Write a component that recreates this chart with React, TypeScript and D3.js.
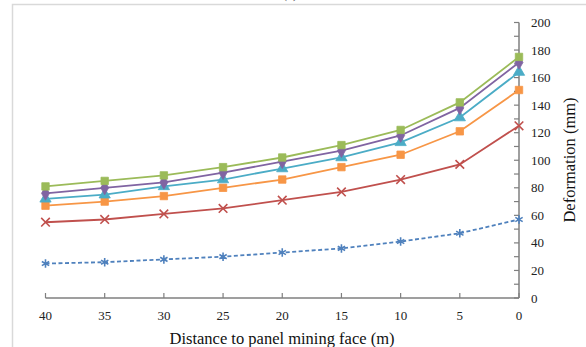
import React, { useEffect, useRef } from 'react'
import * as d3 from 'd3'

const distances = [40, 35, 30, 25, 20, 15, 10, 5, 0]
const yTicks = [0, 20, 40, 60, 80, 100, 120, 140, 160, 180, 200]

const greenVals = [81, 85, 89, 95, 102, 111, 122, 142, 175]
const purpleVals = [76, 80, 84, 91, 99, 107, 118, 138, 171]
const cyanVals = [72, 75, 81, 86, 94, 102, 113, 131, 164]
const orangeVals = [67, 70, 74, 80, 86, 95, 104, 121, 151]
const redVals = [55, 57, 61, 65, 71, 77, 86, 97, 125]
const blueVals = [25, 26, 28, 30, 33, 36, 41, 47, 57]

const series = [
  { name: 'blue', values: blueVals, color: '#4F81BD', symbol: d3.symbolAsterisk, dash: '4,2.5', stroked: true },
  { name: 'red', values: redVals, color: '#C0504D', symbol: d3.symbolX, dash: null, stroked: true },
  { name: 'orange', values: orangeVals, color: '#F79646', symbol: d3.symbolSquare, dash: null, stroked: false },
  { name: 'cyan', values: cyanVals, color: '#4BACC6', symbol: d3.symbolTriangle, dash: null, stroked: false },
  { name: 'purple', values: purpleVals, color: '#8064A2', symbol: d3.symbolDiamond, dash: null, stroked: false },
  { name: 'green', values: greenVals, color: '#9BBB59', symbol: d3.symbolSquare, dash: null, stroked: false }
]

export default function App() {
  const ref = useRef(null)

  useEffect(() => {
    const svg = d3.select(ref.current)
    svg.selectAll('*').remove()

    const font = '"Liberation Serif", "Times New Roman", serif'

    // frame
    svg.append('path')
      .attr('d', 'M12.5,347 L12.5,4.5 L586,4.5')
      .attr('fill', 'none')
      .attr('stroke', '#d9d9d9')
      .attr('stroke-width', 1.5)

    svg.append('text')
      .attr('x', 290)
      .attr('y', -2)
      .attr('text-anchor', 'middle')
      .attr('font-family', font)
      .attr('font-size', 14)
      .attr('fill', '#555')
      .text('(c)')

    const x = d3.scaleLinear().domain([40, 0]).range([45.5, 519])
    const y = d3.scaleLinear().domain([0, 200]).range([298, 22.5])

    // x axis
    const xg = svg.append('g')
    xg.append('line')
      .attr('x1', x(40)).attr('x2', x(0))
      .attr('y1', y(0)).attr('y2', y(0))
      .attr('stroke', '#7f7f7f').attr('stroke-width', 1.5)
    xg.selectAll('.xt')
      .data(distances)
      .join('line')
      .attr('x1', d => x(d)).attr('x2', d => x(d))
      .attr('y1', y(0)).attr('y2', y(0) - 5)
      .attr('stroke', '#7f7f7f').attr('stroke-width', 1.2)
    xg.selectAll('.xl')
      .data(distances)
      .join('text')
      .attr('x', d => x(d))
      .attr('y', 320)
      .attr('text-anchor', 'middle')
      .attr('font-family', font)
      .attr('font-size', 13)
      .attr('fill', '#222')
      .text(d => d)

    // y axis
    const yg = svg.append('g')
    yg.append('line')
      .attr('x1', x(0)).attr('x2', x(0))
      .attr('y1', y(0)).attr('y2', y(200))
      .attr('stroke', '#7f7f7f').attr('stroke-width', 1.5)
    yg.selectAll('.yt')
      .data(d3.range(0, 201, 10))
      .join('line')
      .attr('x1', x(0) - 5).attr('x2', x(0))
      .attr('y1', d => y(d)).attr('y2', d => y(d))
      .attr('stroke', '#7f7f7f').attr('stroke-width', 1.2)
    yg.selectAll('.yl')
      .data(yTicks)
      .join('text')
      .attr('x', 531)
      .attr('y', d => y(d) + 4.5)
      .attr('font-family', font)
      .attr('font-size', 13)
      .attr('fill', '#222')
      .text(d => d)

    svg.append('text')
      .attr('transform', 'translate(575,160) rotate(-90)')
      .attr('text-anchor', 'middle')
      .attr('font-family', font)
      .attr('font-size', 16.5)
      .attr('fill', '#111')
      .text('Deformation (mm)')

    svg.append('text')
      .attr('x', 282)
      .attr('y', 344)
      .attr('text-anchor', 'middle')
      .attr('font-family', font)
      .attr('font-size', 16.5)
      .attr('fill', '#111')
      .text('Distance to panel mining face (m)')

    const line = d3.line().x(d => x(d[0])).y(d => y(d[1]))

    series.forEach(s => {
      const pts = distances.map((d, i) => [d, s.values[i]])
      svg.append('path')
        .attr('d', line(pts))
        .attr('fill', 'none')
        .attr('stroke', s.color)
        .attr('stroke-width', 1.8)
        .attr('stroke-dasharray', s.dash)
      svg.selectAll('.m-' + s.name)
        .data(pts)
        .join('path')
        .attr('transform', d => `translate(${x(d[0])},${y(d[1])})`)
        .attr('d', d3.symbol().type(s.symbol).size(s.stroked ? 50 : 55))
        .attr('fill', s.stroked ? 'none' : s.color)
        .attr('stroke', s.color)
        .attr('stroke-width', s.stroked ? 1.6 : 0.8)
    })
  }, [])

  return (
    <svg
      ref={ref}
      width={586}
      height={347}
      style={{ position: 'absolute', left: 0, top: 0, background: '#fff' }}
    />
  )
}
